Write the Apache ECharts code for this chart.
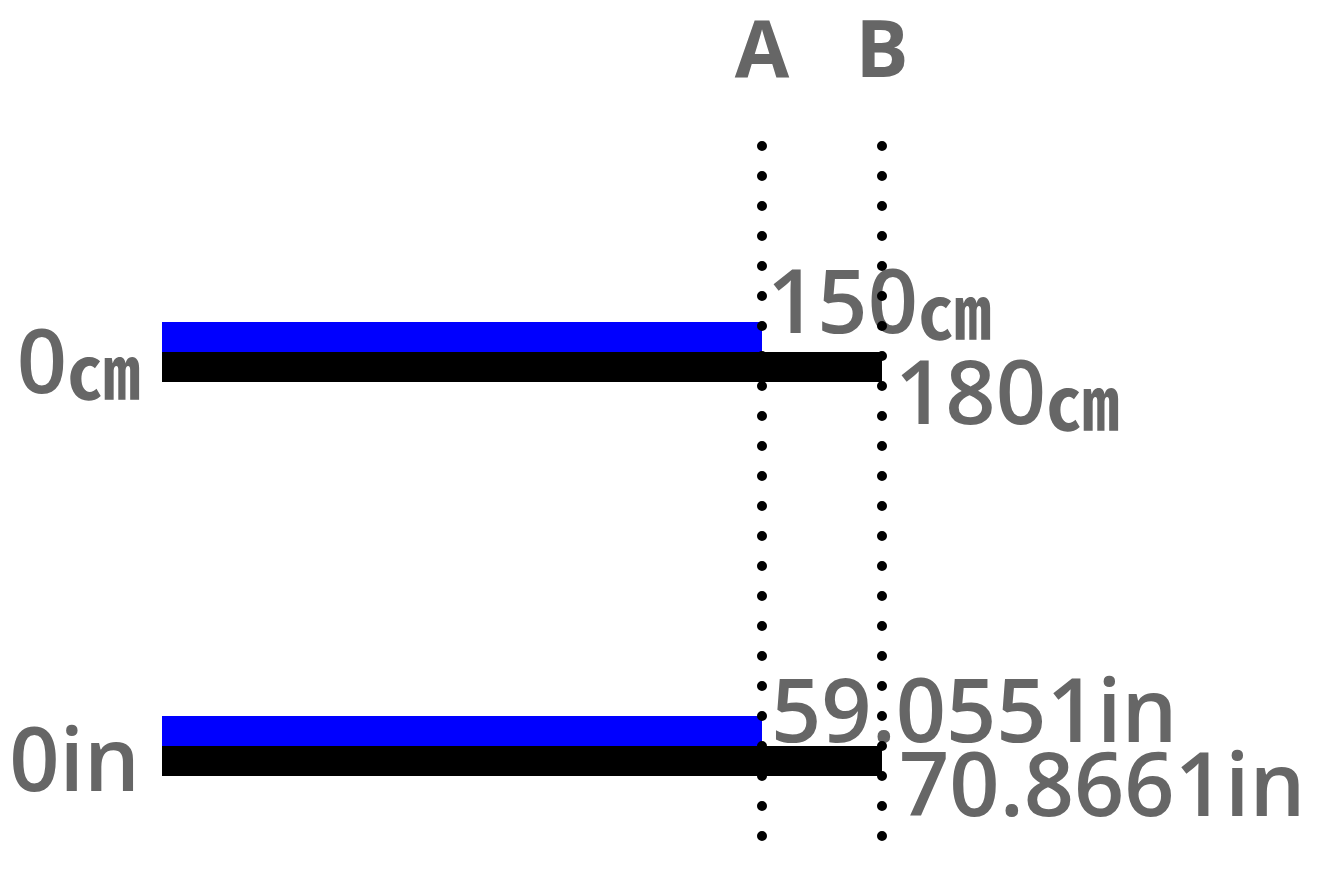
<!DOCTYPE html>
<html>
<head>
<meta charset="utf-8">
<script src="https://cdn.jsdelivr.net/npm/echarts@6/dist/echarts.min.js"></script>
<style>
html,body{margin:0;padding:0;background:#fff;}
#main{width:1336px;height:876px;}
</style>
</head>
<body>
<div id="main"></div>
<script>
// ---- data ----
var categoriesCm = ['0㎝'];
var categoriesIn = ['0in'];
var seriesNames = ['A', 'B'];
var valuesCm = [150, 180];          // A, B in centimetres
var valuesIn = [59.0551, 70.8661];  // A, B in inches
var unitCm = '㎝';
var unitIn = 'in';
var CM_PER_IN = 2.54;
var AXIS_MAX_CM = 250;

var FONT = '"Open Sans", "Noto Sans CJK JP", sans-serif';
var CJK = '"Noto Sans CJK JP", sans-serif';
var GREY = '#666666';
var colors = ['#0000ff', '#000000'];
var labelOffsetsCm = [[0, -29], [8, 32]];
var labelOffsetsIn = [[4, -14], [12, 30]];

var richUnits = {
  u: {fontSize: 73, fontFamily: CJK, fontWeight: 'bold', color: GREY, verticalAlign: 'bottom', padding: [0, 0, 4, 0]}
};
function withUnit(text) {
  return String(text).replace(/㎝/g, '{u|㎝}');
}

var chart = echarts.init(document.getElementById('main'), null, {renderer: 'canvas'});

function barSeries(i, axisIdx, vals, unit, offsets) {
  return {
    type: 'bar',
    name: seriesNames[i],
    xAxisIndex: axisIdx,
    yAxisIndex: axisIdx,
    barWidth: 30,
    barGap: '0%',
    itemStyle: {color: colors[i]},
    data: [{
      value: vals[i],
      label: {
        show: true,
        position: 'right',
        distance: 5,
        offset: offsets[i],
        formatter: function (p) { return withUnit(p.value + unit); },
        fontSize: 88,
        fontFamily: FONT,
        fontWeight: 600,
        color: GREY,
        rich: richUnits
      }
    }]
  };
}

function yLabel(padTop) {
  return {
    fontSize: 88,
    fontFamily: FONT,
    fontWeight: 600,
    color: GREY,
    margin: 22,
    padding: [padTop, 0, 0, 0],
    formatter: withUnit,
    rich: richUnits
  };
}

var option = {
  animation: false,
  backgroundColor: '#ffffff',
  grid: [
    {left: 162, top: 322, width: 1000, height: 60, outerBoundsMode: 'none', containLabel: false},
    {left: 162, top: 716, width: 1000, height: 60, outerBoundsMode: 'none', containLabel: false},
    {left: 162, top: 145, width: 1000, height: 691, outerBoundsMode: 'none', containLabel: false}
  ],
  xAxis: [
    {type: 'value', gridIndex: 0, min: 0, max: AXIS_MAX_CM, show: false},
    {type: 'value', gridIndex: 1, min: 0, max: AXIS_MAX_CM / CM_PER_IN, show: false},
    {type: 'value', gridIndex: 2, min: 0, max: AXIS_MAX_CM, show: false}
  ],
  yAxis: [
    {type: 'category', gridIndex: 0, data: categoriesCm, inverse: true,
     axisLine: {show: false}, axisTick: {show: false}, axisLabel: yLabel(32)},
    {type: 'category', gridIndex: 1, data: categoriesIn, inverse: true,
     axisLine: {show: false}, axisTick: {show: false}, axisLabel: yLabel(40)},
    {type: 'value', gridIndex: 2, min: 0, max: 1, show: false}
  ],
  series: [
    barSeries(0, 0, valuesCm, unitCm, labelOffsetsCm),
    barSeries(1, 0, valuesCm, unitCm, labelOffsetsCm),
    barSeries(0, 1, valuesIn, unitIn, labelOffsetsIn),
    barSeries(1, 1, valuesIn, unitIn, labelOffsetsIn),
    {
      type: 'line',
      xAxisIndex: 2,
      yAxisIndex: 2,
      data: [],
      silent: true,
      z: 5,
      markLine: {
        silent: true,
        symbol: ['none', 'none'],
        lineStyle: {color: '#000000', width: 10, type: [0, 30], cap: 'round'},
        label: {
          show: true,
          position: 'end',
          distance: 51,
          formatter: '{b}',
          fontSize: 79,
          fontFamily: FONT,
          fontWeight: 700,
          color: GREY
        },
        emphasis: {disabled: true},
        data: seriesNames.map(function (n, i) { return {name: n, xAxis: valuesCm[i]}; })
      }
    }
  ]
};
chart.setOption(option);
</script>
</body>
</html>
